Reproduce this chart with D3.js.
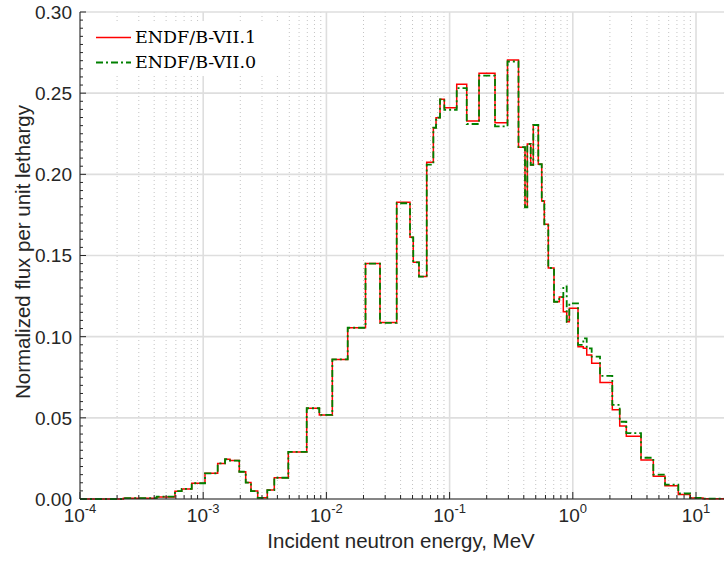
<!DOCTYPE html>
<html><head><meta charset="utf-8">
<script src="https://cdn.jsdelivr.net/npm/d3@7"></script>
<style>body{margin:0;background:#fff}svg{display:block}</style>
</head><body>
<svg id="c" width="724" height="564"></svg>
<script>
// Bin edges (MeV)
const binEdges = [1e-4, 2.25e-4, 4.19e-4, 5.90e-4, 6.69e-4, 8.07e-4, 1.034e-3, 1.311e-3, 1.503e-3, 1.650e-3,
  1.963e-3, 2.213e-3, 2.443e-3, 2.769e-3, 3.313e-3, 3.776e-3, 4.906e-3, 6.92e-3, 8.76e-3, 1.117e-2,
  1.489e-2, 2.077e-2, 2.723e-2, 3.72e-2, 4.77e-2, 5.07e-2, 5.64e-2, 6.52e-2, 7.38e-2, 7.76e-2,
  8.36e-2, 9.06e-2, 0.1142, 0.1377, 0.1733, 0.2336, 0.2951, 0.3624, 0.4093, 0.4273,
  0.4552, 0.4779, 0.5248, 0.5594, 0.5871, 0.6326, 0.7037, 0.777, 0.8374, 0.8924,
  0.9367, 1.102, 1.217, 1.297, 1.423, 1.663, 2.092, 2.403, 2.718, 3.578,
  4.502, 5.602, 7.183, 8.94, 11.4, 20];
// ENDF/B-VII.1 flux per unit lethargy, one value per bin
const fluxVII1 = [0, 0.0005, 0.0013, 0.0048, 0.0062, 0.0097, 0.0158, 0.0219, 0.0245, 0.0237,
  0.0168, 0.0101, 0.0049, 0.0007, 0.0055, 0.0131, 0.029, 0.0559, 0.0518, 0.086,
  0.1055, 0.145, 0.1087, 0.1828, 0.1612, 0.1458, 0.137, 0.2075, 0.2287, 0.2349,
  0.2462, 0.241, 0.2555, 0.2329, 0.2623, 0.2318, 0.2704, 0.2167, 0.1797, 0.2187,
  0.2058, 0.2304, 0.2062, 0.1836, 0.1692, 0.1423, 0.1215, 0.1244, 0.1154, 0.1092,
  0.1175, 0.0938, 0.0928, 0.0887, 0.0836, 0.0717, 0.055, 0.045, 0.0386, 0.024,
  0.014, 0.0081, 0.0028, 0.0006, 0.0002];
// ENDF/B-VII.0
const fluxVII0 = [0, 0.0005, 0.0015, 0.0048, 0.0062, 0.0097, 0.0158, 0.0219, 0.0245, 0.0237,
  0.0168, 0.0101, 0.0049, 0.0007, 0.0055, 0.0131, 0.029, 0.0559, 0.0518, 0.086,
  0.1055, 0.145, 0.1085, 0.1822, 0.1612, 0.1458, 0.137, 0.2060, 0.2287, 0.2349,
  0.2462, 0.2398, 0.2531, 0.2310, 0.2608, 0.2296, 0.2695, 0.2167, 0.1797, 0.2187,
  0.2058, 0.2304, 0.2062, 0.1836, 0.1692, 0.1423, 0.1215, 0.1244, 0.131, 0.1092,
  0.1205, 0.0950, 0.099, 0.0928, 0.0877, 0.0758, 0.058, 0.0476, 0.0406, 0.0254,
  0.015, 0.0088, 0.0034, 0.0007, 0.0002];
const seriesNames = ["ENDF/B-VII.1", "ENDF/B-VII.0"];
const seriesColors = ["#ff0000", "#008000"];
const xMajorTicks = [1e-4, 1e-3, 1e-2, 1e-1, 1, 10];
const xTickExps = ["-4", "-3", "-2", "-1", "0", "1"];
const yTicks = [0, 0.05, 0.10, 0.15, 0.20, 0.25, 0.30];

const svg = d3.select("#c");
const L = 80, R = 733.1, T = 12, B = 499;
const x = d3.scaleLog().domain([1e-4, 20]).range([L, R]);
const y = d3.scaleLinear().domain([0, 0.30]).range([B, T]);
const font = "'Liberation Sans', Arial, Helvetica, sans-serif";

// minor x grid (dotted)
const minor = [];
for (let e = -4; e <= 1; e++) for (let k = 2; k <= 9; k++) { const v = k * Math.pow(10, e); if (v <= 20) minor.push(v); }
svg.append("g").selectAll("line").data(minor).join("line")
  .attr("x1", d => x(d)).attr("x2", d => x(d)).attr("y1", T).attr("y2", B)
  .attr("stroke", "#c4c4c4").attr("stroke-width", 1).attr("stroke-dasharray", "1,3");
// major grids
svg.append("g").selectAll("line").data(xMajorTicks).join("line")
  .attr("x1", d => x(d)).attr("x2", d => x(d)).attr("y1", T).attr("y2", B)
  .attr("stroke", "#dedede").attr("stroke-width", 1.6);
svg.append("g").selectAll("line").data(yTicks).join("line")
  .attr("x1", L).attr("x2", 724).attr("y1", d => y(d)).attr("y2", d => y(d))
  .attr("stroke", "#dedede").attr("stroke-width", 1.6);

// legend background
svg.append("rect").attr("x", 85).attr("y", 21).attr("width", 200).attr("height", 55).attr("fill", "#fff");

// step lines
function stepPts(vals) {
  const p = vals.map((v, i) => [binEdges[i], v]);
  p.push([binEdges[binEdges.length - 1], vals[vals.length - 1]]);
  return p;
}
const line = d3.line().x(d => x(d[0])).y(d => y(d[1])).curve(d3.curveStepAfter);
svg.append("path").attr("d", line(stepPts(fluxVII1))).attr("fill", "none")
  .attr("stroke", seriesColors[0]).attr("stroke-width", 1.5);
svg.append("path").attr("d", line(stepPts(fluxVII0))).attr("fill", "none")
  .attr("stroke", seriesColors[1]).attr("stroke-width", 1.8).attr("stroke-dasharray", "7,3,2,3");

// axes
const ax = svg.append("g").attr("stroke", "#262626");
ax.append("line").attr("x1", L).attr("x2", L).attr("y1", T).attr("y2", B).attr("stroke-width", 1);
ax.append("line").attr("x1", L).attr("x2", 724).attr("y1", B).attr("y2", B).attr("stroke-width", 1);
// y ticks
const yMinor = d3.range(0, 0.3001, 0.005);
ax.selectAll(".ym").data(yMinor).join("line")
  .attr("x1", L).attr("x2", (d, i) => L + (i % 10 === 0 ? 6 : 3))
  .attr("y1", d => y(d)).attr("y2", d => y(d));
ax.selectAll(".xm").data(minor).join("line")
  .attr("x1", d => x(d)).attr("x2", d => x(d)).attr("y1", B).attr("y2", B - 4);
ax.selectAll(".xM").data(xMajorTicks).join("line")
  .attr("x1", d => x(d)).attr("x2", d => x(d)).attr("y1", B).attr("y2", B - 7);

// tick labels
svg.append("g").selectAll("text").data(yTicks).join("text")
  .attr("x", 72).attr("y", d => y(d)).attr("dy", "0.36em").attr("text-anchor", "end")
  .attr("font-family", font).attr("font-size", 19).attr("fill", "#262626")
  .text(d => d.toFixed(2));
const xl = svg.append("g").selectAll("text").data(xMajorTicks).join("text")
  .attr("x", d => x(d)).attr("y", 522).attr("text-anchor", "middle")
  .attr("font-family", font).attr("font-size", 19).attr("fill", "#262626");
xl.append("tspan").text("10");
xl.append("tspan").attr("dy", -9).attr("font-size", 13).text((d, i) => xTickExps[i]);

// axis titles
svg.append("text").attr("x", 401).attr("y", 548).attr("text-anchor", "middle")
  .attr("font-family", font).attr("font-size", 20.5).attr("fill", "#262626")
  .text("Incident neutron energy, MeV");
svg.append("text").attr("transform", "translate(30,252) rotate(-90)").attr("text-anchor", "middle")
  .attr("font-family", font).attr("font-size", 20.5).attr("fill", "#262626")
  .text("Normalized flux per unit lethargy");

// legend
const lg = svg.append("g");
const legY = [37.5, 62.5];
seriesNames.forEach((n, i) => {
  const l = lg.append("line").attr("x1", 96).attr("x2", 131).attr("y1", legY[i]).attr("y2", legY[i])
    .attr("stroke", seriesColors[i]).attr("stroke-width", i ? 1.8 : 1.5);
  if (i) l.attr("stroke-dasharray", "7,3,2,3");
  lg.append("text").attr("x", 135).attr("y", legY[i] + 5.5)
    .attr("font-family", "'DejaVu Serif', 'Liberation Serif', serif").attr("font-size", 17.5)
    .attr("fill", "#000").text(n);
});
</script>
</body></html>
